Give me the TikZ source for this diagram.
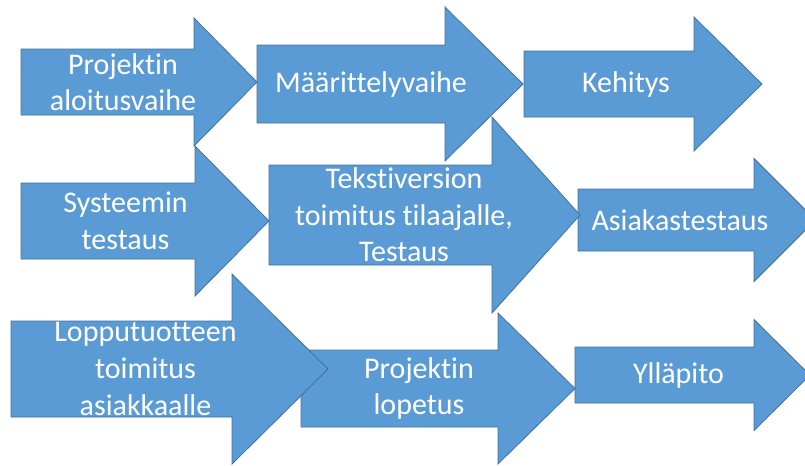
\documentclass[tikz,border=0pt]{standalone}
\usepackage{fontspec}
\setmainfont[Ligatures=NoCommon]{Carlito}
\definecolor{arrfill}{RGB}{91,155,213}
\definecolor{arrline}{RGB}{65,113,156}
\newcommand\myblockarrow[6]{%
  \draw[arr] (#1,#4-#5) -- (#2,#4-#5) -- (#2,#4-#6) -- (#3,#4) -- (#2,#4+#6) -- (#2,#4+#5) -- (#1,#4+#5) -- cycle;}
\begin{document}
\begin{tikzpicture}[x=0.75pt,y=-0.75pt,
  arr/.style={fill=arrfill,draw=arrline,line width=0.6pt,line join=miter},
  lbl/.style={text=white,align=center,inner sep=0pt,font=\fontsize{22.5}{27.4}\selectfont}]
\useasboundingbox (0,0) rectangle (805,465);
\clip (0,0) rectangle (805,465);
% row 3
\myblockarrow{575}{754}{810}{375}{28}{55.5}
\myblockarrow{301}{498}{575}{388.5}{38.5}{75.5}
\myblockarrow{11}{232}{328}{369}{48}{95}
% row 2
\myblockarrow{578}{754}{815.5}{220}{31}{61.5}
\myblockarrow{269}{492}{580}{215}{50}{98}
\myblockarrow{21}{195}{269}{221}{38}{75}
% row 1
\myblockarrow{524}{694}{762}{84}{33}{67}
\myblockarrow{257}{445}{523}{84}{39}{77}
\myblockarrow{21}{194}{257}{82}{33}{64}
% labels
\node[lbl] (t1) at (123,82) {Projektin\\aloitusvaihe};
\node[lbl] (t2) at (371,84) {Määrittelyvaihe};
\node[lbl] (t3) at (626,84) {Kehitys};
\node[lbl] (t4) at (125.5,221) {Systeemin\\testaus};
\node[lbl] (t5) at (404,215) {Tekstiversion\\toimitus tilaajalle,\\Testaus};
\node[lbl] (t6) at (680,220) {Asiakastestaus};
\node[lbl] (t7) at (145.5,369) {Lopputuotteen\\toimitus\\asiakkaalle};
\node[lbl] (t8) at (419,388.5) {Projektin\\lopetus};
\node[lbl] (t9) at (678.5,375) {Ylläpito};
\end{tikzpicture}
\end{document}
